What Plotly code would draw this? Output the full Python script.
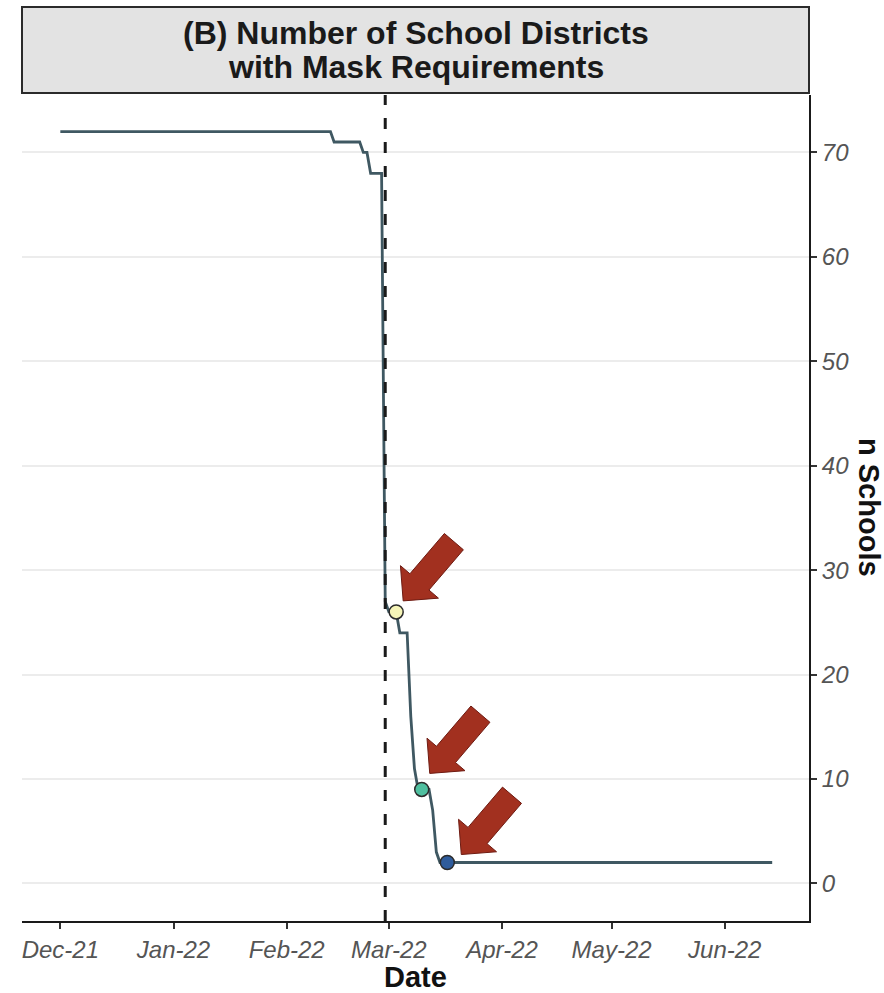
import numpy as np
import plotly.graph_objects as go

# Districts still requiring masks, recorded at each date where the count changed
dates = [
    "2021-12-01", "2022-02-13", "2022-02-14", "2022-02-21", "2022-02-22",
    "2022-02-23", "2022-02-24", "2022-02-27", "2022-02-28", "2022-03-01",
    "2022-03-03", "2022-03-04", "2022-03-06", "2022-03-07", "2022-03-08",
    "2022-03-09", "2022-03-12", "2022-03-13", "2022-03-14", "2022-03-15",
    "2022-06-14",
]
n_schools = [72, 72, 71, 71, 70, 70, 68, 68, 27, 26, 26, 24, 24, 16, 11, 9, 9, 7, 3, 2, 2]

# Highlighted dates along the curve
point_dates = ["2022-03-03", "2022-03-10", "2022-03-17"]
point_values = [26, 9, 2]
point_colors = ["#f6f5b8", "#4fbf9f", "#2f5c9c"]

# State mandate lifted
policy_date = "2022-02-28"

month_ticks = ["2021-12-01", "2022-01-01", "2022-02-01", "2022-03-01",
               "2022-04-01", "2022-05-01", "2022-06-01"]
month_labels = ["Dec-21", "Jan-22", "Feb-22", "Mar-22", "Apr-22", "May-22", "Jun-22"]

y_ticks = [0, 10, 20, 30, 40, 50, 60, 70]

W, H = 884, 993
M_L, M_R, M_T, M_B = 22, 75, 7, 72
plot_w = W - M_L - M_R
plot_h = H - M_T - M_B
panel_top_frac = (H - M_B - 95) / plot_h


def paper_y(px):
    return (H - M_B - px) / plot_h


def paper_x(px):
    return (px - M_L) / plot_w


fig = go.Figure()

fig.add_trace(go.Scatter(
    x=dates, y=n_schools, mode="lines",
    line=dict(color="#3f5862", width=2.8),
    hoverinfo="skip", showlegend=False,
))

fig.add_trace(go.Scatter(
    x=point_dates, y=point_values, mode="markers",
    marker=dict(size=14, color=point_colors, line=dict(color="#2b2b2b", width=1.5)),
    showlegend=False,
))

# Block arrows pointing at each highlighted point (pixel offsets from the point)
tip_offsets = [(7, 11), (8, 16), (14, 8)]
u = np.array([0.65, 0.76])
u = u / np.linalg.norm(u)
n = np.array([-u[1], u[0]])
local = [(0, 0), (25, 25), (25, 12.5), (78, 12.5), (78, -12.5), (25, -12.5), (25, -25)]

shapes = []
for d, v, (ox, oy) in zip(point_dates, point_values, tip_offsets):
    pts = [np.array([ox, oy]) + a * u + b * n for a, b in local]
    path = "M " + " L ".join(f"{p[0]:.2f},{p[1]:.2f}" for p in pts) + " Z"
    shapes.append(dict(
        type="path", xref="x", yref="y",
        xsizemode="pixel", ysizemode="pixel",
        xanchor=d, yanchor=v, path=path,
        fillcolor="#a2301f", line=dict(color="#6e1b12", width=1),
        layer="above",
    ))

# Dashed policy line
shapes.append(dict(
    type="line", xref="x", yref="y domain",
    x0=policy_date, x1=policy_date, y0=0, y1=1,
    line=dict(color="#1a1a1a", width=3, dash="11px,13px"),
    layer="above",
))

# Facet strip header
shapes.append(dict(
    type="rect", xref="paper", yref="paper",
    x0=0, x1=1, y0=paper_y(93), y1=1,
    fillcolor="#e3e3e3", line=dict(color="#2b2b2b", width=2),
    layer="below",
))

FAMILY = "Liberation Sans, Arial, sans-serif"
tick_font = dict(family=FAMILY, size=24, color="#555555", style="italic")

fig.update_layout(
    width=W, height=H,
    margin=dict(l=M_L, r=M_R, t=M_T, b=M_B),
    paper_bgcolor="white", plot_bgcolor="white",
    shapes=shapes,
    xaxis=dict(
        range=["2021-11-20 12:00", "2022-06-24 02:00"],
        tickvals=month_ticks, ticktext=month_labels,
        tickfont=tick_font,
        showgrid=False, zeroline=False,
        showline=True, linecolor="#1a1a1a", linewidth=2,
        ticks="outside", ticklen=6, tickwidth=2, tickcolor="#333333",
    ),
    yaxis=dict(
        domain=[0, panel_top_frac],
        side="right",
        range=[-3.6, 75.5],
        tickvals=y_ticks,
        tickfont=tick_font,
        showgrid=True, gridcolor="#ececec", gridwidth=1.6,
        zeroline=False,
        showline=True, linecolor="#1a1a1a", linewidth=2,
        ticks="outside", ticklen=6, tickwidth=2, tickcolor="#333333",
    ),
    annotations=[
        dict(text="<b>(B) Number of School Districts</b>", xref="paper", yref="paper",
             x=0.5, y=paper_y(33), xanchor="center", yanchor="middle", showarrow=False,
             font=dict(family=FAMILY, size=32, color="#1a1a1a")),
        dict(text="<b>with Mask Requirements</b>", xref="paper", yref="paper",
             x=0.5, y=paper_y(67), xanchor="center", yanchor="middle", showarrow=False,
             font=dict(family=FAMILY, size=32, color="#1a1a1a")),
        dict(text="<b>Date</b>", xref="paper", yref="paper",
             x=0.5, y=paper_y(977), xanchor="center", yanchor="middle", showarrow=False,
             font=dict(family=FAMILY, size=29, color="#111111")),
        dict(text="<b>n Schools</b>", xref="paper", yref="paper",
             x=paper_x(869), y=paper_y(507), xanchor="center", yanchor="middle",
             textangle=90, showarrow=False,
             font=dict(family=FAMILY, size=29, color="#111111")),
    ],
)

fig.write_html("out.html")
